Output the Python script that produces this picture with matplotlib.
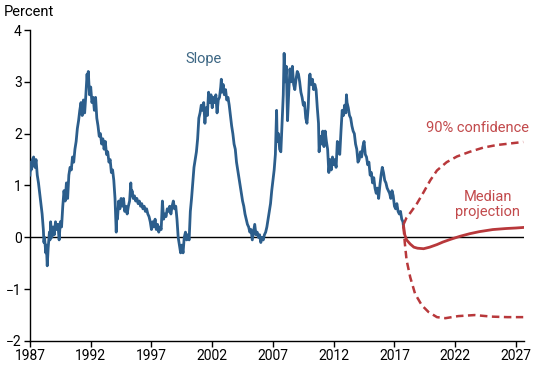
import matplotlib
matplotlib.use("Agg")
import matplotlib.pyplot as plt

plt.rcParams['font.family'] = ['Roboto', 'DejaVu Sans']

# Term spread (slope)
slope_years = [
    1987.0, 1987.05, 1987.1, 1987.2, 1987.3, 1987.4, 1987.5, 1987.6, 1987.7, 1987.8,
    1987.9, 1988.0, 1988.1, 1988.15, 1988.2, 1988.3, 1988.35, 1988.42, 1988.5, 1988.6,
    1988.65, 1988.7, 1988.8, 1988.9, 1989.0, 1989.1, 1989.2, 1989.3, 1989.4, 1989.5,
    1989.6, 1989.7, 1989.8, 1989.9, 1990.0, 1990.1, 1990.2, 1990.3, 1990.4, 1990.5,
    1990.6, 1990.7, 1990.8, 1990.9, 1991.0, 1991.1, 1991.2, 1991.3, 1991.4, 1991.5,
    1991.6, 1991.7, 1991.75, 1991.8, 1991.9, 1992.0, 1992.1, 1992.2, 1992.3, 1992.4,
    1992.5, 1992.6, 1992.7, 1992.8, 1992.9, 1993.0, 1993.1, 1993.2, 1993.3, 1993.4,
    1993.5, 1993.6, 1993.7, 1993.8, 1993.9, 1994.0, 1994.05, 1994.1, 1994.15, 1994.2,
    1994.3, 1994.4, 1994.5, 1994.6, 1994.7, 1994.8, 1994.9, 1995.0, 1995.1, 1995.2,
    1995.3, 1995.35, 1995.4, 1995.5, 1995.6, 1995.7, 1995.8, 1995.9, 1996.0, 1996.1,
    1996.2, 1996.3, 1996.4, 1996.5, 1996.6, 1996.7, 1996.8, 1996.9, 1997.0, 1997.1,
    1997.2, 1997.3, 1997.4, 1997.5, 1997.6, 1997.7, 1997.8, 1997.9, 1998.0, 1998.1,
    1998.2, 1998.3, 1998.4, 1998.5, 1998.6, 1998.7, 1998.8, 1998.9, 1999.0, 1999.1,
    1999.2, 1999.3, 1999.4, 1999.5, 1999.6, 1999.7, 1999.8, 1999.9, 2000.0, 2000.1,
    2000.2, 2000.3, 2000.4, 2000.5, 2000.6, 2000.7, 2000.8, 2000.9, 2001.0, 2001.1,
    2001.2, 2001.3, 2001.4, 2001.5, 2001.6, 2001.7, 2001.8, 2001.9, 2002.0, 2002.1,
    2002.2, 2002.3, 2002.4, 2002.5, 2002.6, 2002.7, 2002.75, 2002.8, 2002.9, 2003.0,
    2003.1, 2003.2, 2003.3, 2003.4, 2003.5, 2003.6, 2003.7, 2003.8, 2003.9, 2004.0,
    2004.1, 2004.2, 2004.3, 2004.4, 2004.5, 2004.6, 2004.7, 2004.8, 2004.9, 2005.0,
    2005.1, 2005.2, 2005.3, 2005.4, 2005.5, 2005.6, 2005.7, 2005.8, 2005.9, 2006.0,
    2006.1, 2006.2, 2006.3, 2006.4, 2006.5, 2006.6, 2006.7, 2006.8, 2006.9, 2007.0,
    2007.1, 2007.2, 2007.3, 2007.35, 2007.45, 2007.55, 2007.65, 2007.75, 2007.85, 2007.92,
    2008.0, 2008.1, 2008.2, 2008.3, 2008.4, 2008.5, 2008.6, 2008.7, 2008.8, 2008.9,
    2009.0, 2009.1, 2009.2, 2009.3, 2009.4, 2009.5, 2009.6, 2009.7, 2009.8, 2009.9,
    2010.0, 2010.05, 2010.15, 2010.25, 2010.35, 2010.45, 2010.55, 2010.65, 2010.75, 2010.8,
    2010.9, 2011.0, 2011.1, 2011.2, 2011.3, 2011.4, 2011.5, 2011.6, 2011.7, 2011.8,
    2011.9, 2012.0, 2012.1, 2012.2, 2012.3, 2012.4, 2012.5, 2012.6, 2012.7, 2012.8,
    2012.9, 2013.0, 2013.05, 2013.1, 2013.2, 2013.3, 2013.4, 2013.5, 2013.6, 2013.7,
    2013.8, 2013.9, 2014.0, 2014.1, 2014.2, 2014.3, 2014.4, 2014.5, 2014.6, 2014.7,
    2014.8, 2014.9, 2015.0, 2015.1, 2015.2, 2015.3, 2015.4, 2015.5, 2015.6, 2015.7,
    2015.8, 2015.9, 2016.0, 2016.1, 2016.2, 2016.3, 2016.4, 2016.5, 2016.6, 2016.7,
    2016.8, 2016.9, 2017.0, 2017.1, 2017.2, 2017.3, 2017.4, 2017.5, 2017.6, 2017.7,
    2017.75,
]
slope_values = [
    1.2, 1.45, 1.3, 1.5, 1.55, 1.35, 1.5, 1.2, 1.05, 0.85,
    0.65, 0.45, 0.15, -0.1, 0.0, -0.3, -0.15, -0.55, -0.2, 0.1,
    -0.05, 0.3, 0.0, 0.2, 0.05, 0.3, 0.15, 0.25, -0.05, 0.3,
    0.2, 0.6, 0.9, 0.7, 1.05, 0.75, 1.2, 1.35, 1.3, 1.55,
    1.45, 1.7, 1.85, 2.1, 2.25, 2.45, 2.6, 2.35, 2.65, 2.4,
    2.75, 3.15, 2.95, 3.2, 2.75, 2.9, 2.6, 2.7, 2.45, 2.7,
    2.3, 2.15, 1.95, 2.0, 1.8, 1.9, 1.7, 1.85, 1.6, 1.65,
    1.45, 1.5, 1.25, 1.3, 1.1, 0.75, 0.45, 0.1, 0.5, 0.35,
    0.7, 0.55, 0.75, 0.6, 0.75, 0.5, 0.6, 0.45, 0.6, 0.7,
    1.05, 0.8, 0.9, 0.75, 0.8, 0.7, 0.75, 0.65, 0.7, 0.6,
    0.65, 0.55, 0.6, 0.5, 0.55, 0.45, 0.4, 0.3, 0.15, 0.3,
    0.2, 0.35, 0.15, 0.25, 0.1, 0.2, 0.15, 0.7, 0.35, 0.45,
    0.4, 0.55, 0.5, 0.6, 0.45, 0.6, 0.7, 0.55, 0.6, 0.35,
    0.0, -0.15, -0.3, -0.15, -0.3, 0.0, 0.1, -0.05, 0.05, -0.05,
    0.5, 0.75, 1.05, 1.35, 1.5, 1.65, 1.9, 2.3, 2.4, 2.55,
    2.45, 2.6, 2.2, 2.5, 2.35, 2.8, 2.6, 2.75, 2.5, 2.7,
    2.6, 2.75, 2.4, 2.65, 2.7, 2.9, 3.05, 2.8, 2.95, 2.75,
    2.85, 2.65, 2.7, 2.55, 2.35, 2.15, 2.0, 1.8, 1.7, 1.45,
    1.3, 1.15, 1.0, 0.85, 0.7, 0.6, 0.45, 0.35, 0.25, 0.2,
    0.1, 0.15, -0.05, 0.1, 0.25, 0.05, 0.1, 0.0, 0.05, -0.1,
    0.0, -0.05, 0.05, 0.1, 0.2, 0.35, 0.5, 0.65, 0.9, 1.1,
    1.3, 1.6, 2.45, 1.85, 2.0, 1.7, 1.65, 2.2, 2.75, 3.55,
    3.0, 3.3, 2.25, 2.8, 3.25, 3.0, 3.3, 2.95, 2.85, 3.05,
    3.2, 3.15, 3.0, 2.8, 2.7, 2.55, 2.6, 2.3, 2.2, 2.5,
    3.1, 3.15, 2.95, 3.05, 2.85, 2.95, 2.85, 2.5, 2.2, 1.65,
    1.95, 1.8, 2.05, 1.75, 2.05, 1.85, 1.7, 1.25, 1.5, 1.3,
    1.55, 1.4, 1.5, 1.35, 1.85, 1.7, 1.6, 2.05, 2.45, 2.35,
    2.55, 2.4, 2.75, 2.6, 2.5, 2.35, 2.3, 2.15, 2.05, 2.0,
    1.8, 1.7, 1.45, 1.5, 1.65, 1.55, 1.75, 1.85, 1.6, 1.55,
    1.4, 1.45, 1.2, 1.25, 1.05, 1.15, 0.95, 0.85, 0.95, 0.75,
    1.0, 1.2, 1.35, 1.25, 1.1, 1.05, 0.95, 0.9, 0.85, 0.75,
    0.9, 0.8, 0.6, 0.55, 0.65, 0.5, 0.45, 0.5, 0.35, 0.3,
    0.2,
]

# Projections
median_years = [2017.75, 2017.85, 2018.0, 2018.3, 2018.6, 2018.9, 2019.4, 2019.9,
                2020.5, 2021.0, 2021.6, 2022.4, 2023.2, 2024.0, 2025.1, 2026.2,
                2027.0, 2027.6]
median_values = [0.22, 0.05, -0.05, -0.13, -0.19, -0.21, -0.22, -0.19,
                 -0.14, -0.09, -0.04, 0.02, 0.07, 0.11, 0.15, 0.17,
                 0.18, 0.19]

upper_years = [2017.75, 2018.0, 2018.3, 2018.85, 2019.4, 2019.95, 2020.5, 2021.3,
               2022.15, 2023.2, 2024.3, 2025.4, 2026.5, 2027.6]
upper_values = [0.25, 0.38, 0.47, 0.65, 0.87, 1.1, 1.29, 1.45,
                1.56, 1.65, 1.73, 1.78, 1.81, 1.84]

lower_years = [2017.75, 2017.85, 2018.0, 2018.3, 2018.7, 2019.25, 2019.8, 2020.5,
               2021.2, 2022.25, 2023.6, 2025.0, 2026.3, 2027.6]
lower_values = [0.2, -0.1, -0.44, -0.77, -1.09, -1.31, -1.44, -1.54,
                -1.56, -1.52, -1.50, -1.53, -1.54, -1.54]

year_ticks = [1987, 1992, 1997, 2002, 2007, 2012, 2017, 2022, 2027]
pct_ticks = [-2, -1, 0, 1, 2, 3, 4]

blue = '#2c5e8c'
red = '#b8383b'

fig = plt.figure(figsize=(5.5, 3.65), dpi=100)
ax = fig.add_axes([0.0545, 0.0658, 0.899, 0.852])

ax.axhline(0, color='black', linewidth=1.0, zorder=1)
ax.plot(slope_years, slope_values, color=blue, linewidth=2.0, zorder=3)
ax.plot(median_years, median_values, color=red, linewidth=2.0, zorder=3)
ax.plot(upper_years, upper_values, color=red, linewidth=1.8,
        linestyle=(0, (3, 1.8)), zorder=3)
ax.plot(lower_years, lower_values, color=red, linewidth=1.8,
        linestyle=(0, (3, 1.8)), zorder=3)

ax.set_xlim(1987, 2027.7)
ax.set_ylim(-2, 4)
ax.set_xticks(year_ticks)
ax.set_yticks(pct_ticks)
ax.tick_params(labelsize=10, length=4.5, width=1, pad=1.5, colors='black')

for side in ['top', 'right']:
    ax.spines[side].set_visible(False)
for side in ['left', 'bottom']:
    ax.spines[side].set_linewidth(1)

fig.text(0.006, 0.967, 'Percent', fontsize=10.5, ha='left', va='center')
ax.text(2001.3, 3.44, 'Slope', color='#3d6784', fontsize=10.5, ha='center', va='center')
ax.text(2023.8, 2.10, '90% confidence', color='#c24a4c', fontsize=10.5,
        ha='center', va='center')
ax.text(2024.7, 0.64, 'Median\nprojection', color='#c24a4c', fontsize=10.5,
        ha='center', va='center', linespacing=1.1)

fig.savefig('out.png', dpi=100)
